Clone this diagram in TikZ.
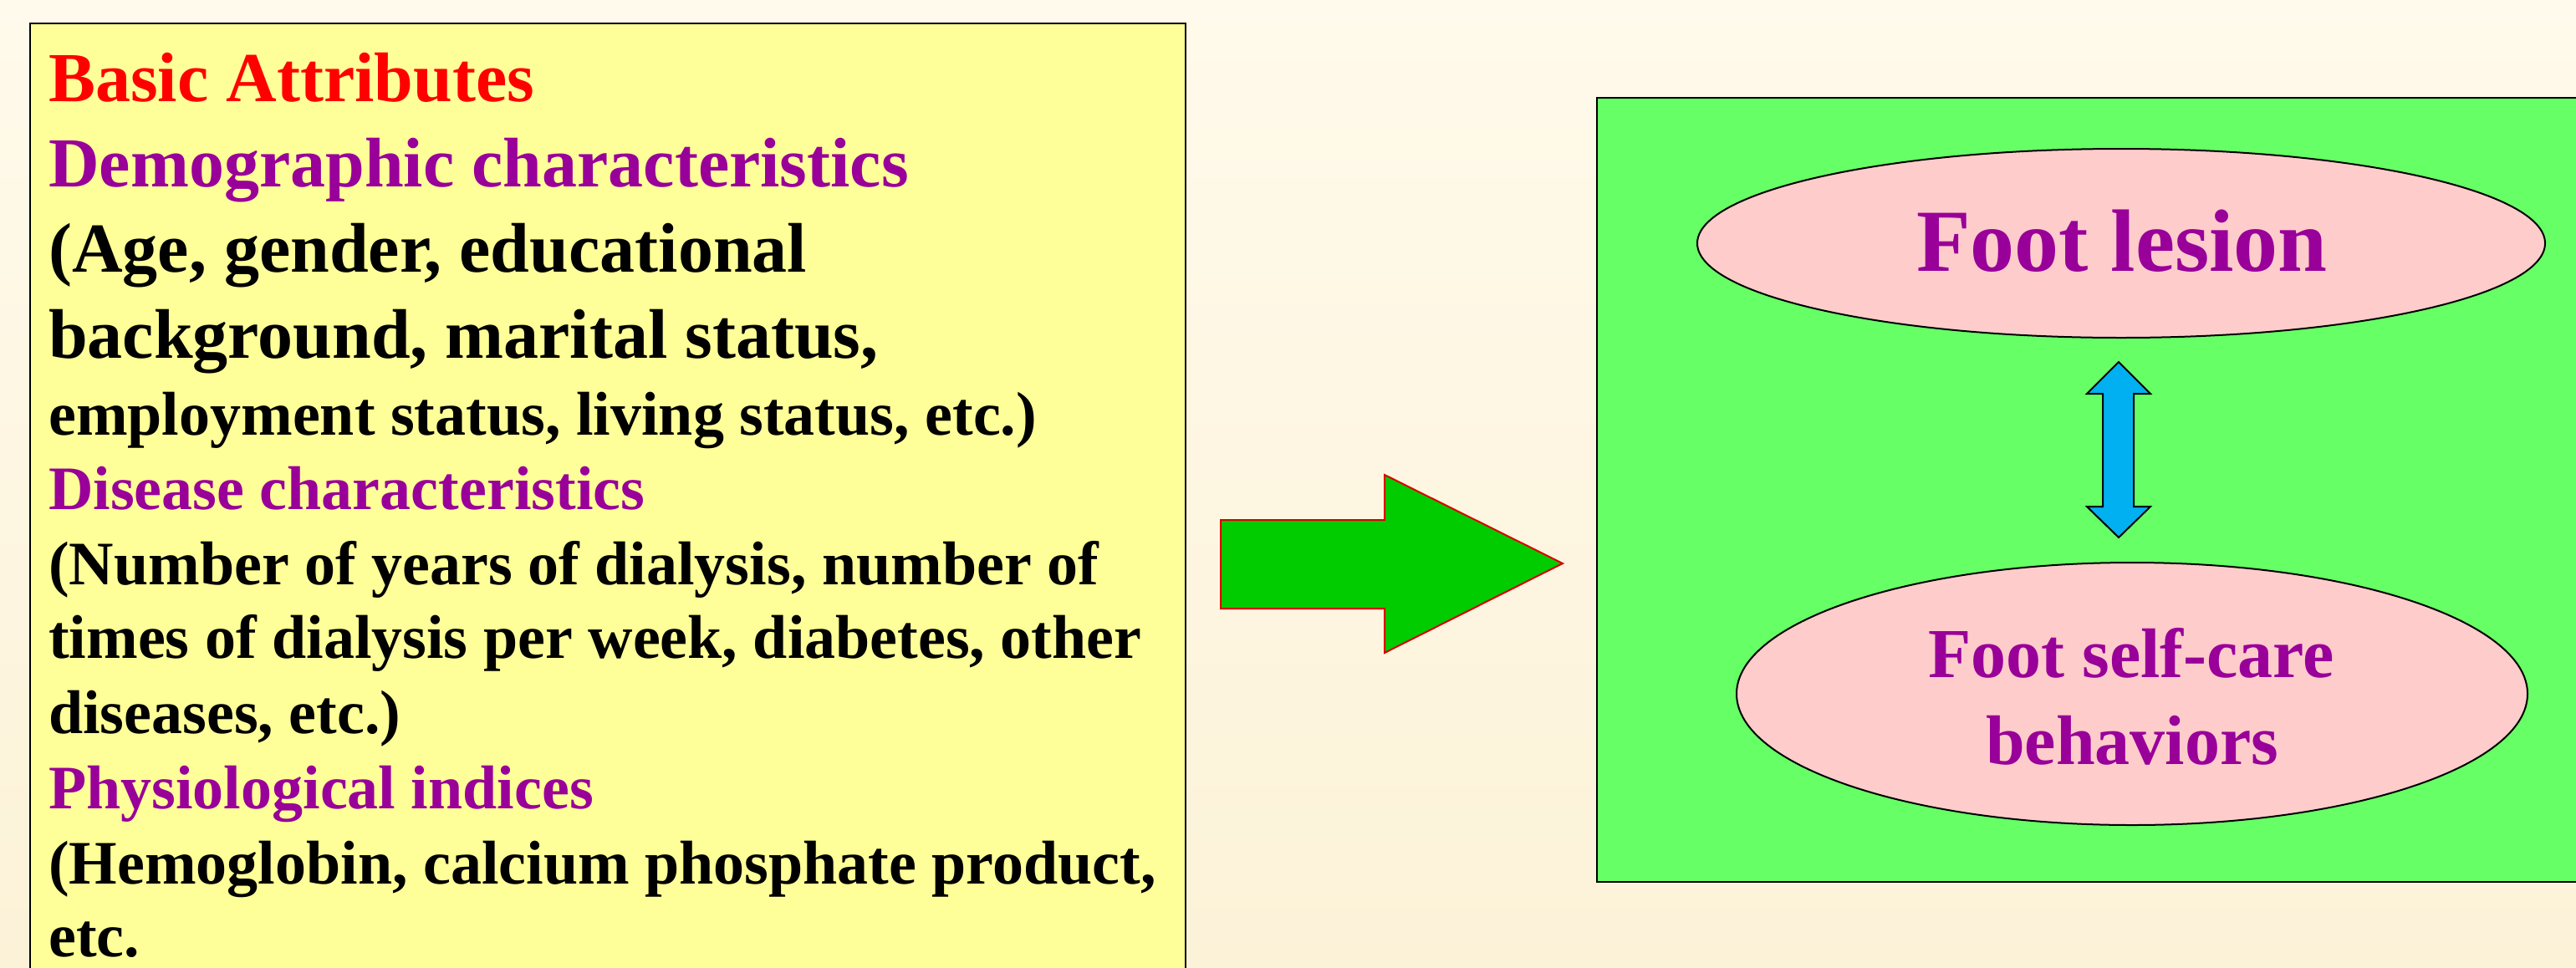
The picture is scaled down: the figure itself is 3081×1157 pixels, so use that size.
\documentclass[tikz,border=0pt]{standalone}
\usepackage{fontspec}
\setmainfont{Liberation Serif}
\usetikzlibrary{shapes.geometric}
\definecolor{bgtop}{RGB}{255,250,235}
\definecolor{bgbot}{RGB}{252,242,216}
\definecolor{ybox}{RGB}{255,255,153}
\definecolor{gbox}{RGB}{102,255,102}
\definecolor{pinkel}{RGB}{255,204,204}
\definecolor{purp}{RGB}{153,0,153}
\definecolor{arrgreen}{RGB}{0,204,0}
\definecolor{arrblue}{RGB}{0,176,240}
\tikzset{
  bigtxt/.style={anchor=base west, inner sep=0pt, font=\bfseries\fontsize{84}{100}\selectfont},
  smalltxt/.style={anchor=base west, inner sep=0pt, font=\bfseries\fontsize{74}{90}\selectfont},
  oval/.style={ellipse, draw=black, line width=2pt, fill=pinkel, inner sep=0pt},
  ovaltxt/.style={anchor=base, inner sep=0pt, text=purp}
}
\begin{document}
\begin{tikzpicture}[x=1pt,y=-1pt]
\useasboundingbox (0,0) rectangle (3081,1157);
\shade[top color=bgtop, bottom color=bgbot] (0,0) rectangle (3081,1157);
% left box
\draw[line width=2.5pt, fill=ybox] (36,28) rectangle (1418,1200);
\node[bigtxt, text=red] (t1) at (58,121) {Basic Attributes};
\node[bigtxt, text=purp] (t2) at (58,223) {Demographic characteristics};
\node[bigtxt] (t3) at (58,325) {(Age, gender, educational};
\node[bigtxt] (t4) at (58,428) {background, marital status,};
\node[smalltxt] (t5) at (58,520) {employment status, living status, etc.)};
\node[smalltxt, text=purp] (t6) at (58,609) {Disease characteristics};
\node[smalltxt] (t7) at (58,699) {(Number of years of dialysis, number of};
\node[smalltxt] (t8) at (58,787) {times of dialysis per week, diabetes, other};
\node[smalltxt] (t9) at (58,877) {diseases, etc.)};
\node[smalltxt, text=purp] (t10) at (58,967) {Physiological indices};
\node[smalltxt] (t11) at (58,1057) {(Hemoglobin, calcium phosphate product,};
\node[smalltxt] (t12) at (58,1144) {etc.};
% big green arrow
\draw[draw=red!85!black, line width=2pt, fill=arrgreen, line join=miter]
  (1460,622) -- (1656,622) -- (1656,568) -- (1869,674) -- (1656,781) -- (1656,728) -- (1460,728) -- cycle;
% right green box
\draw[line width=2.5pt, fill=gbox] (1910,117) rectangle (3120,1055);
\node[oval, minimum width=1014pt, minimum height=226pt] (lesion) at (2537,291) {};
\node[oval, minimum width=946pt, minimum height=314pt] (care) at (2550,830) {};
\node[ovaltxt, font=\bfseries\fontsize{106}{120}\selectfont] (lt) at (2538,324) {Foot lesion};
\node[ovaltxt, font=\bfseries\fontsize{84}{104}\selectfont] (ct1) at (2549,810) {Foot self-care};
\node[ovaltxt, font=\bfseries\fontsize{84}{104}\selectfont] (ct2) at (2550,914) {behaviors};
% double arrow
\draw[line width=2pt, fill=arrblue, line join=miter]
  (2534,433) -- (2572,471) -- (2552,471) -- (2552,606) -- (2572,606) -- (2534,643)
  -- (2496,606) -- (2515,606) -- (2515,471) -- (2496,471) -- cycle;
\end{tikzpicture}
\end{document}
